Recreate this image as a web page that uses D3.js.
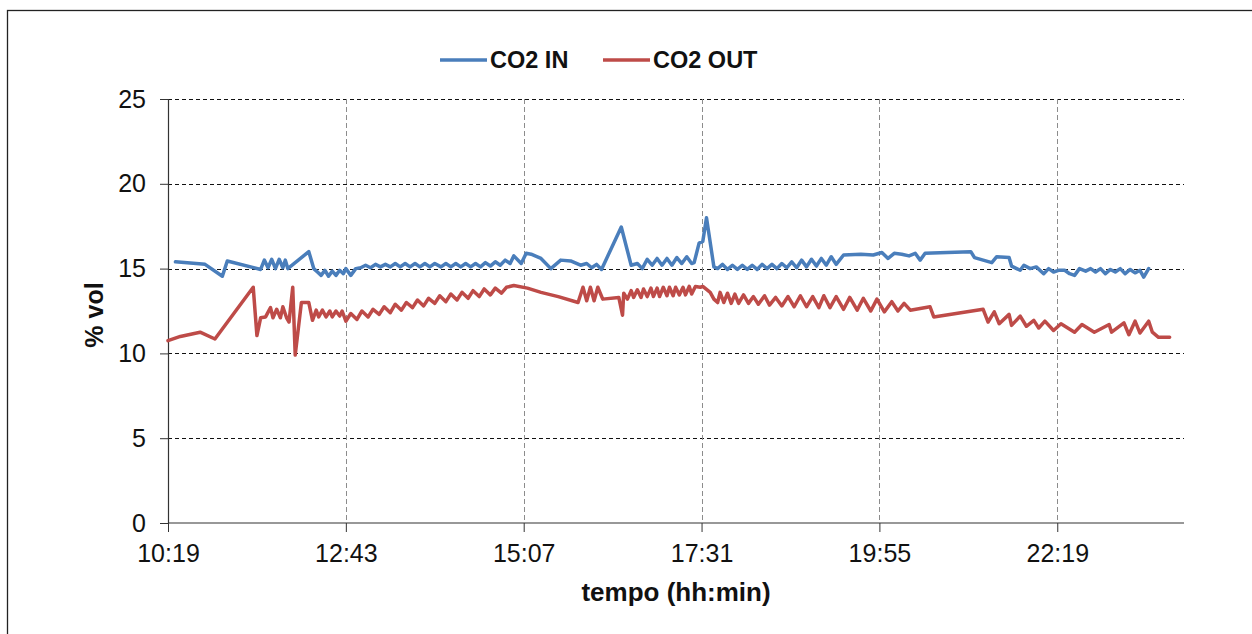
<!DOCTYPE html>
<html>
<head>
<meta charset="utf-8">
<script src="https://cdn.jsdelivr.net/npm/d3@7"></script>
<style>
  html, body { margin: 0; padding: 0; background: #fff; }
  svg { display: block; font-family: "Liberation Sans", Arial, sans-serif; }
</style>
</head>
<body>
<svg id="chart" width="1252" height="634"></svg>
<script>
// ---- data (time in minutes after midnight, value in % vol) ----
const xTickLabels = ["10:19", "12:43", "15:07", "17:31", "19:55", "22:19"];
const yTickValues = [0, 5, 10, 15, 20, 25];
const seriesNames = ["CO2 IN", "CO2 OUT"];
const seriesColors = ["#4a7ebb", "#be4b48"];

const co2In = [
  [625,15.4],[649,15.25],[663,14.55],[667,15.45],[694,14.95],[697,15.5],[700,15.05],[703,15.55],
  [706,15.0],[709,15.55],[712,15.05],[714,15.5],[716,15.0],[733,16.0],[737,15.0],[740,14.8],
  [743,14.6],[746,14.9],[749,14.55],[752,14.85],[755,14.6],[758,14.9],[761,14.7],[763,15.0],
  [767,14.6],[771,15.0],[775,15.05],[779,15.2],[783,15.05],[787,15.25],[791,15.1],[795,15.25],
  [799,15.1],[803,15.3],[807,15.1],[811,15.3],[815,15.1],[819,15.3],[823,15.1],[827,15.3],
  [831,15.1],[835,15.3],[840,15.1],[844,15.3],[848,15.1],[852,15.3],[856,15.1],[860,15.3],
  [864,15.1],[868,15.3],[872,15.1],[876,15.35],[880,15.15],[884,15.4],[888,15.2],[892,15.5],
  [896,15.3],[899,15.75],[905,15.3],[909,15.9],[913,15.85],[921,15.6],[929,15.0],[937,15.5],
  [945,15.45],[953,15.2],[958,15.3],[962,15.05],[966,15.25],[970,14.95],[986,17.45],[994,15.2],
  [999,15.3],[1003,15.0],[1007,15.55],[1011,15.2],[1015,15.6],[1019,15.2],[1023,15.6],[1027,15.2],
  [1031,15.65],[1035,15.3],[1039,15.7],[1043,15.3],[1045,15.35],[1049,16.5],[1052,16.6],[1055,18.0],
  [1061,15.1],[1064,15.0],[1068,15.25],[1072,14.95],[1076,15.2],[1080,14.95],[1084,15.2],[1088,14.95],
  [1092,15.2],[1096,14.95],[1100,15.25],[1104,15.0],[1108,15.25],[1112,15.0],[1116,15.3],[1120,15.05],
  [1124,15.4],[1128,15.05],[1132,15.5],[1136,15.1],[1140,15.55],[1144,15.15],[1148,15.6],[1152,15.2],
  [1156,15.7],[1160,15.25],[1166,15.8],[1180,15.85],[1190,15.8],[1197,15.95],[1202,15.6],[1207,15.9],
  [1213,15.85],[1219,15.75],[1224,15.9],[1228,15.5],[1232,15.9],[1250,15.95],[1269,16.0],[1272,15.65],
  [1286,15.35],[1290,15.7],[1300,15.65],[1302,15.15],[1309,14.9],[1312,15.2],[1317,15.0],[1322,15.1],
  [1328,14.7],[1332,15.0],[1336,14.8],[1340,14.9],[1345,14.9],[1349,14.7],[1353,14.6],[1357,15.0],
  [1362,14.85],[1366,15.0],[1370,14.8],[1374,15.0],[1378,14.7],[1382,14.95],[1386,14.8],[1390,15.0],
  [1394,14.7],[1398,14.95],[1402,14.75],[1406,14.9],[1409,14.5],[1413,15.0]
];

const co2Out = [
  [619,10.75],[629,11.0],[645,11.25],[657,10.85],[688,13.9],[691,11.05],[694,12.1],[698,12.15],
  [702,12.7],[704,12.1],[707,12.6],[710,12.1],[712,12.75],[715,12.1],[717,11.85],[720,13.9],
  [722,9.9],[727,13.0],[733,13.0],[736,11.95],[739,12.55],[741,12.15],[744,12.55],[747,12.15],
  [750,12.5],[752,12.15],[755,12.5],[758,12.2],[760,12.5],[763,11.9],[767,12.35],[772,12.0],
  [776,12.5],[781,12.15],[785,12.6],[790,12.3],[794,12.75],[799,12.4],[803,12.9],[808,12.55],
  [812,13.0],[817,12.7],[821,13.15],[826,12.8],[830,13.25],[835,12.95],[839,13.4],[844,13.05],
  [848,13.5],[853,13.15],[857,13.6],[862,13.25],[866,13.7],[871,13.35],[875,13.8],[880,13.45],
  [884,13.85],[889,13.55],[893,13.9],[899,14.0],[910,13.85],[921,13.6],[935,13.35],[951,13.0],
  [955,13.9],[958,13.1],[961,13.9],[964,13.1],[967,13.9],[971,13.2],[984,13.3],[987,12.25],
  [988,13.55],[991,13.2],[994,13.7],[996,13.3],[999,13.75],[1002,13.3],[1004,13.8],[1007,13.35],
  [1010,13.85],[1012,13.35],[1015,13.85],[1017,13.35],[1020,13.9],[1023,13.4],[1025,13.9],[1028,13.4],
  [1030,13.9],[1033,13.45],[1036,13.9],[1038,13.45],[1041,13.95],[1043,13.5],[1046,13.95],[1050,13.9],
  [1052,13.95],[1058,13.6],[1061,13.2],[1064,13.0],[1066,13.6],[1069,13.0],[1072,13.55],[1075,12.95],
  [1078,13.5],[1081,12.95],[1085,13.45],[1089,12.95],[1093,13.35],[1097,12.9],[1102,13.4],[1106,12.85],
  [1111,13.3],[1116,12.8],[1121,13.35],[1126,12.75],[1131,13.4],[1136,12.75],[1141,13.35],[1146,12.7],
  [1150,13.4],[1155,12.7],[1160,13.35],[1166,12.6],[1171,13.3],[1177,12.55],[1182,13.25],[1188,12.5],
  [1193,13.2],[1199,12.45],[1205,13.05],[1210,12.5],[1215,12.95],[1220,12.55],[1236,12.75],[1239,12.15],
  [1279,12.6],[1283,11.85],[1288,12.45],[1292,11.75],[1300,12.3],[1302,11.65],[1309,12.2],[1314,11.6],
  [1320,11.95],[1324,11.5],[1329,11.9],[1336,11.35],[1342,11.75],[1353,11.25],[1359,11.7],[1369,11.25],
  [1381,11.7],[1383,11.25],[1393,11.8],[1397,11.1],[1402,11.9],[1406,11.2],[1413,11.9],[1416,11.25],
  [1421,10.95],[1430,10.95]
];

// ---- drawing ----
const svg = d3.select("#chart");
const toMin = s => { const [h, m] = s.split(":").map(Number); return h * 60 + m; };
const xTicks = xTickLabels.map(toMin);

const x = d3.scaleLinear().domain([619, 1440]).range([168, 1182]);
const y = d3.scaleLinear().domain([0, 25]).range([523, 99]);
const plotRight = 1184;

// outer frame
svg.append("rect").attr("x", 7.5).attr("y", 10.5).attr("width", 1260).attr("height", 640)
  .attr("fill", "#fff").attr("stroke", "#222").attr("stroke-width", 1.3);

// horizontal gridlines
svg.append("g").selectAll("line").data(yTickValues.filter(v => v > 0)).join("line")
  .attr("x1", x(619)).attr("x2", plotRight)
  .attr("y1", d => Math.round(y(d)) + 0.5).attr("y2", d => Math.round(y(d)) + 0.5)
  .attr("stroke", "#111").attr("stroke-width", 1).attr("stroke-dasharray", "4,3");

// vertical gridlines
svg.append("g").selectAll("line").data(xTicks.slice(1)).join("line")
  .attr("x1", d => Math.round(x(d)) + 0.5).attr("x2", d => Math.round(x(d)) + 0.5)
  .attr("y1", y(25)).attr("y2", y(0))
  .attr("stroke", "#8c8c8c").attr("stroke-width", 1).attr("stroke-dasharray", "5,3");

// y axis
const yAxis = d3.axisLeft(y).tickValues(yTickValues).tickSize(8).tickPadding(14);
const gy = svg.append("g").attr("transform", `translate(${x(619)},0)`).call(yAxis);
gy.select(".domain").attr("stroke", "#333").attr("stroke-width", 1.2);
gy.selectAll(".tick line").attr("stroke", "#333");
gy.selectAll("text").attr("font-size", 25).attr("fill", "#111")
  .attr("font-family", "Liberation Sans, Arial, sans-serif");

// x axis
const xAxis = d3.axisBottom(x).tickValues(xTicks).tickFormat((d, i) => xTickLabels[i])
  .tickSize(9).tickSizeOuter(0).tickPadding(12);
const gx = svg.append("g").attr("transform", `translate(0,${y(0)})`).call(xAxis);
gx.select(".domain").attr("stroke", "#333").attr("stroke-width", 1.2)
  .attr("d", `M${x(619)},0H${plotRight}`);
gx.selectAll(".tick line").attr("stroke", "#333");
gx.selectAll("text").attr("font-size", 25).attr("fill", "#111")
  .attr("font-family", "Liberation Sans, Arial, sans-serif");

// series lines
const line = d3.line().x(d => x(d[0])).y(d => y(d[1]));
[co2In, co2Out].forEach((data, i) => {
  svg.append("path").datum(data).attr("d", line)
    .attr("fill", "none").attr("stroke", seriesColors[i]).attr("stroke-width", 3.5)
    .attr("stroke-linejoin", "round").attr("stroke-linecap", "round");
});

// legend
const legendX = [440, 603];
seriesNames.forEach((name, i) => {
  const g = svg.append("g").attr("transform", `translate(${legendX[i]},60)`);
  g.append("line").attr("x1", 0).attr("x2", 47).attr("y1", 0).attr("y2", 0)
    .attr("stroke", seriesColors[i]).attr("stroke-width", 3.5);
  g.append("text").attr("x", 50).attr("y", 8).attr("font-size", 23.5).attr("font-weight", "bold")
    .attr("fill", "#111").text(name);
});

// axis titles
svg.append("text").attr("transform", "translate(103,315) rotate(-90)")
  .attr("text-anchor", "middle").attr("font-size", 25).attr("font-weight", "bold")
  .attr("fill", "#111").text("% vol");
svg.append("text").attr("x", 676).attr("y", 601).attr("text-anchor", "middle")
  .attr("font-size", 26).attr("font-weight", "bold").attr("fill", "#111").text("tempo (hh:min)");
</script>
</body>
</html>
